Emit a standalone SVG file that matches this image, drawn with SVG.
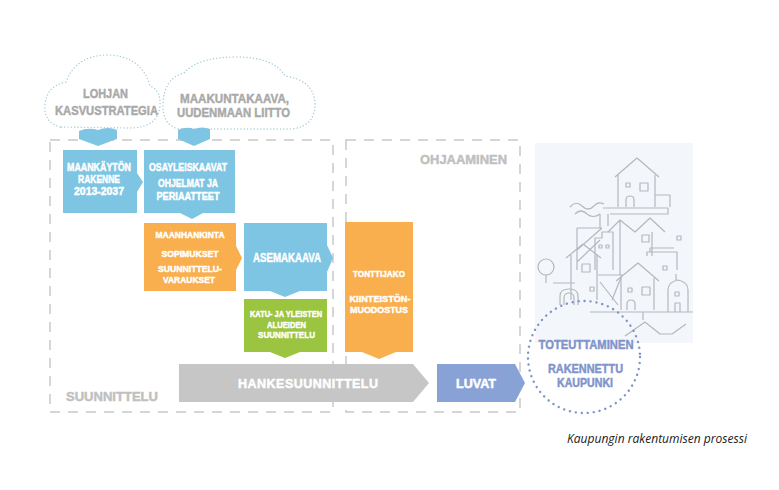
<svg xmlns="http://www.w3.org/2000/svg" width="779" height="490" viewBox="0 0 779 490">
<style>
.frame{fill:none;stroke:#c9c9c9;stroke-width:1.5;stroke-dasharray:10 8}
.cloud{fill:none;stroke:#a9cdd8;stroke-width:1.4;stroke-dasharray:0.1 3.2;stroke-linecap:round}
.blue{fill:#7dc5e3}
.orange{fill:#f9af4d}
.green{fill:#9bc440}
.grey{fill:#c6c6c6}
.luvat{fill:#89a2d5}
.t{font-family:"Liberation Sans",Arial,sans-serif;font-weight:700;text-anchor:middle;stroke-width:0.45;stroke-linejoin:round}
.w{fill:#ffffff;stroke:#ffffff}
.g{fill:#a9a9a9;stroke:#a9a9a9}
.lab{fill:#c0c0c0;stroke:#c0c0c0}
.c{fill:#8094cb;stroke:#8094cb}
.city{fill:none;stroke:#b5b7bd;stroke-width:1.2;stroke-linejoin:round}
</style>

<g id="frame-suunnittelu">
<rect class="frame" x="50" y="140" width="283" height="272"/>
<text class="t lab" x="112" y="401" font-size="13" textLength="92" lengthAdjust="spacingAndGlyphs">SUUNNITTELU</text>
</g>
<g id="frame-ohjaaminen">
<rect class="frame" x="346" y="140" width="174" height="272"/>
<text class="t lab" x="463.5" y="164" font-size="13" textLength="87" lengthAdjust="spacingAndGlyphs">OHJAAMINEN</text>
</g>

<g id="city-illustration">
<rect x="535" y="143" width="158" height="200" fill="#f3f7fb"/>
<path class="city" d="M615 177 L637 158 L659 177 M618 175 V207 M655 175 V207 M655 195 H670 V207"/>
<rect class="city" x="626" y="183" width="4" height="4"/>
<rect class="city" x="640" y="183" width="8" height="8"/>
<path class="city" d="M626 207 V200 Q626 196 630 196 Q634 196 634 200 V207"/>
<path class="city" d="M603 208 H668 V214 H610 M570 207 Q576 200 582 206 Q588 212 594 206 Q598 201 604 204 M575 214 Q581 208 587 214 Q593 219 600 214"/>
<path class="city" d="M600 214 V228 M608 214 V226"/>
<path class="city" d="M577 270 V228 H602 M577 250 L602 228 M577 262 L600 240"/>
<path class="city" d="M595 270 V238 H602 V232 H613 V270"/>
<rect class="city" x="599" y="245" width="3" height="3"/>
<rect class="city" x="606" y="245" width="3" height="3"/>
<path class="city" d="M608 232 L620 220 L635 232 L650 218 L665 232 M620 220 V275 M652 232 V256"/>
<rect class="city" x="642" y="235" width="7" height="7"/>
<rect class="city" x="677" y="236" width="4" height="4"/>
<path class="city" d="M566 258 L583 244 L601 258 M571 255 V300 M597 255 V300"/>
<rect class="city" x="582" y="264" width="8" height="8"/>
<rect class="city" x="590" y="287" width="4" height="4"/>
<circle class="city" cx="546" cy="267" r="8"/>
<path class="city" d="M546 275 V283 M553 283 H575 M560 305 V296 Q560 289 569 289 Q578 289 578 296 V305 M564 305 V298 Q564 293 569 293 Q574 293 574 298 V305"/>
<path class="city" d="M598 275 H622 L612 300 M600 282 L618 305"/>
<path class="city" d="M647 256 V252 H677 V270 M650 252 V248 H674"/>
<rect class="city" x="663" y="266" width="4" height="4"/>
<path class="city" d="M616 281 L638 263 L659 281 M621 278 V310 M654 278 V310"/>
<rect class="city" x="628" y="288" width="4" height="4"/>
<rect class="city" x="642" y="287" width="8" height="8"/>
<path class="city" d="M627 310 V304 Q627 300 631 300 Q635 300 635 304 V310"/>
<path class="city" d="M668 312 V290 Q668 282 678 280 Q688 282 688 290 V312 M676 280 V274"/>
<rect class="city" x="675" y="292" width="4" height="4"/>
<path class="city" d="M675 312 V303 H680 V312"/>
<path class="city" d="M590 312 H693 M643 312 V320 M625 336 L645 322 L660 334 L672 334 L686 324"/>
</g>

<g id="cloud-lohjan">
<path class="cloud" d="M60 127 Q43 122 45 104 Q47 86 66 82 Q76 55 108 55 Q142 56 150 86 Q161 90 160 106 Q158 127 132 128 Z"/>
<text class="t g" x="105.5" y="98" font-size="13" textLength="45" lengthAdjust="spacingAndGlyphs">LOHJAN</text>
<text class="t g" x="106.5" y="115" font-size="13" textLength="103" lengthAdjust="spacingAndGlyphs">KASVUSTRATEGIA</text>
</g>
<g id="cloud-maakunta">
<path class="cloud" d="M178 129 Q162 124 163 104 Q164 78 184 73 Q198 57 236 57 Q274 57 285 76 Q313 80 315 102 Q316 126 292 129 Z"/>
<text class="t g" x="234.5" y="103" font-size="13.5" textLength="109" lengthAdjust="spacingAndGlyphs">MAAKUNTAKAAVA,</text>
<text class="t g" x="233.5" y="117" font-size="13.5" textLength="113" lengthAdjust="spacingAndGlyphs">UUDENMAAN LIITTO</text>
</g>

<g id="connectors">
<path class="blue" d="M79 131 Q88 127 98 130 Q108 126 117 130 L117 139 L98 146 L79 139 Z"/>
<path class="blue" d="M178 130 Q186 126 194 129 Q202 126 210 129 L210 139 L194 146 L178 139 Z"/>
</g>

<g id="node-maankaytto">
<path class="blue" d="M63 150 H137 V173 L143 182 L137 192 V213 H63 Z"/>
<text class="t w" x="99" y="171" font-size="10" textLength="64" lengthAdjust="spacingAndGlyphs">MAANKÄYTÖN</text>
<text class="t w" x="99" y="183" font-size="10" textLength="42" lengthAdjust="spacingAndGlyphs">RAKENNE</text>
<text class="t w" x="99" y="195" font-size="10" textLength="50" lengthAdjust="spacingAndGlyphs">2013-2037</text>
</g>
<g id="node-osayleiskaavat">
<path class="blue" d="M144 150 H235 V213 H203 L192 219 L180 213 H144 Z"/>
<text class="t w" x="188" y="171" font-size="10" textLength="78" lengthAdjust="spacingAndGlyphs">OSAYLEISKAAVAT</text>
<text class="t w" x="188" y="187" font-size="10" textLength="60" lengthAdjust="spacingAndGlyphs">OHJELMAT JA</text>
<text class="t w" x="188" y="200" font-size="10" textLength="63" lengthAdjust="spacingAndGlyphs">PERIAATTEET</text>
</g>
<g id="node-maanhankinta">
<path class="orange" d="M144 223 H236 V246 L242 258 L236 270 V291 H144 Z"/>
<text class="t w" x="190" y="238" font-size="9" textLength="69" lengthAdjust="spacingAndGlyphs">MAANHANKINTA</text>
<text class="t w" x="190" y="257" font-size="9" textLength="57" lengthAdjust="spacingAndGlyphs">SOPIMUKSET</text>
<text class="t w" x="190" y="272" font-size="9" textLength="64" lengthAdjust="spacingAndGlyphs">SUUNNITTELU-</text>
<text class="t w" x="189" y="283" font-size="9" textLength="52" lengthAdjust="spacingAndGlyphs">VARAUKSET</text>
</g>
<g id="node-asemakaava">
<path class="blue" d="M244 223 H327 V245 L333 258 L327 272 V291 H300 L285 297 L270 291 H244 Z"/>
<text class="t w" x="287" y="262" font-size="12" textLength="68" lengthAdjust="spacingAndGlyphs">ASEMAKAAVA</text>
</g>
<g id="node-katu">
<path class="green" d="M244 299 H327 V352 H300 L285 358 L270 352 H244 Z"/>
<text class="t w" x="286" y="317" font-size="9" textLength="72" lengthAdjust="spacingAndGlyphs">KATU- JA YLEISTEN</text>
<text class="t w" x="286.5" y="327.5" font-size="9" textLength="39" lengthAdjust="spacingAndGlyphs">ALUEIDEN</text>
<text class="t w" x="286.5" y="338" font-size="9" textLength="57" lengthAdjust="spacingAndGlyphs">SUUNNITTELU</text>
</g>
<g id="node-tonttijako">
<path class="orange" d="M345 222 H413 V352 H396 L379 359 L362 352 H345 Z"/>
<text class="t w" x="379" y="277" font-size="9.5" textLength="52" lengthAdjust="spacingAndGlyphs">TONTTIJAKO</text>
<text class="t w" x="380" y="302" font-size="9.5" textLength="61" lengthAdjust="spacingAndGlyphs">KIINTEISTÖN-</text>
<text class="t w" x="379" y="313" font-size="9.5" textLength="58" lengthAdjust="spacingAndGlyphs">MUODOSTUS</text>
</g>
<g id="node-hankesuunnittelu">
<path class="grey" d="M179 364 H413 L429 383 L413 402 H179 Z"/>
<text class="t w" x="308" y="388" font-size="12.5" textLength="140" lengthAdjust="spacing">HANKESUUNNITTELU</text>
</g>
<g id="node-luvat">
<path class="luvat" d="M437 364 H515 L525 383 L515 402 H437 Z"/>
<text class="t w" x="476" y="388" font-size="12" textLength="40" lengthAdjust="spacingAndGlyphs">LUVAT</text>
</g>
<g id="node-toteuttaminen">
<circle cx="584" cy="357" r="56" fill="none" stroke="#8094c8" stroke-width="2.4" stroke-dasharray="0.1 5.9" stroke-linecap="round"/>
<text class="t c" x="586" y="349" font-size="12" textLength="95" lengthAdjust="spacingAndGlyphs">TOTEUTTAMINEN</text>
<text class="t c" x="585.5" y="373" font-size="12" textLength="75" lengthAdjust="spacingAndGlyphs">RAKENNETTU</text>
<text class="t c" x="585" y="387" font-size="12" textLength="56" lengthAdjust="spacingAndGlyphs">KAUPUNKI</text>
</g>

<text x="567" y="443" font-family="'Open Sans','Liberation Sans',sans-serif" font-style="italic" font-size="12" fill="#1a1a1a" textLength="180" lengthAdjust="spacingAndGlyphs">Kaupungin rakentumisen prosessi</text>
</svg>
